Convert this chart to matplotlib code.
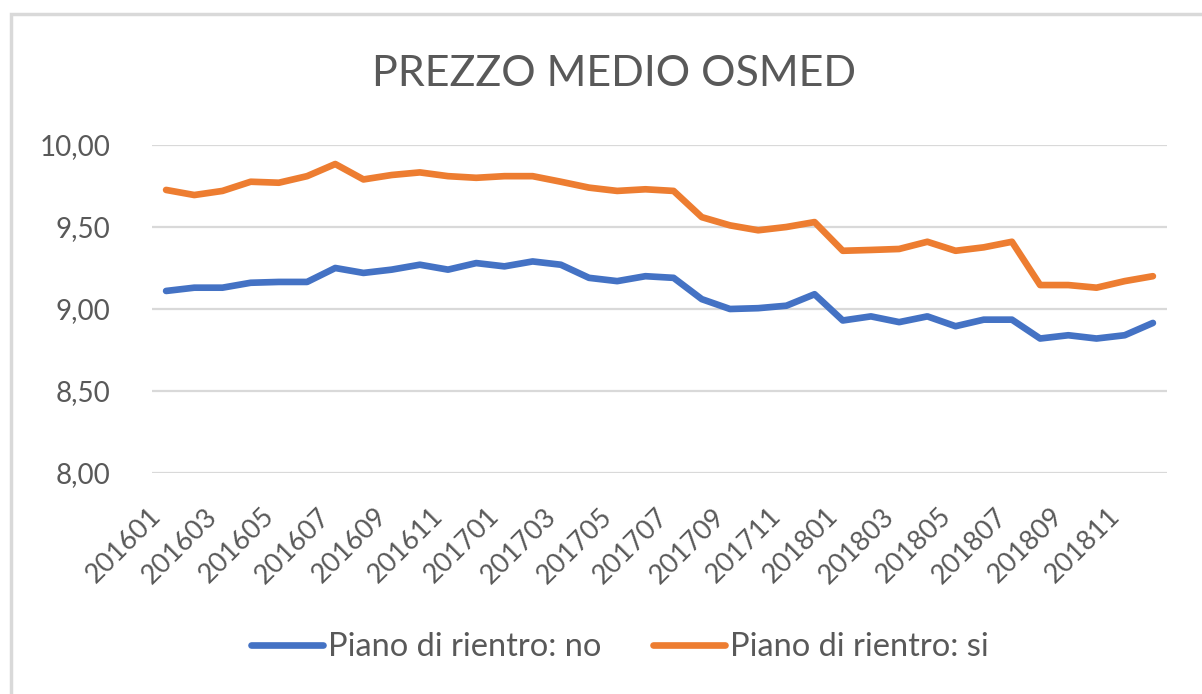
import matplotlib.pyplot as plt
from matplotlib.patches import Rectangle
from matplotlib.ticker import FuncFormatter

# months (category axis)
months = ['201601', '201602', '201603', '201604', '201605', '201606',
          '201607', '201608', '201609', '201610', '201611', '201612',
          '201701', '201702', '201703', '201704', '201705', '201706',
          '201707', '201708', '201709', '201710', '201711', '201712',
          '201801', '201802', '201803', '201804', '201805', '201806',
          '201807', '201808', '201809', '201810', '201811', '201812']

# average price, regions without recovery plan
prezzo_no = [9.11, 9.13, 9.13, 9.16, 9.165, 9.165, 9.25, 9.22, 9.24, 9.27, 9.24, 9.28,
             9.26, 9.29, 9.27, 9.19, 9.17, 9.20, 9.19, 9.06, 9.00, 9.005, 9.02, 9.09,
             8.93, 8.955, 8.92, 8.955, 8.895, 8.935, 8.935, 8.82, 8.84, 8.82, 8.84, 8.915]

# average price, regions with recovery plan
prezzo_si = [9.726, 9.695, 9.72, 9.776, 9.77, 9.81, 9.884, 9.79, 9.817, 9.833, 9.81, 9.80,
             9.81, 9.81, 9.776, 9.74, 9.72, 9.73, 9.72, 9.56, 9.51, 9.48, 9.50, 9.53,
             9.355, 9.36, 9.366, 9.41, 9.355, 9.376, 9.41, 9.146, 9.146, 9.13, 9.17, 9.20]

yticks = [8.0, 8.5, 9.0, 9.5, 10.0]

text_col = '#595959'
plt.rcParams['font.family'] = ['Lato', 'DejaVu Sans']

fig = plt.figure(figsize=(12.02, 6.94), dpi=100)

# chart frame (light grey border, cut at right/bottom like the screenshot)
fig.patches.append(Rectangle((11 / 1202, -0.05), 1.1, 1 - 14 / 694 + 0.05,
                             transform=fig.transFigure, fill=False,
                             edgecolor='#d9d9d9', linewidth=2.5))

ax = fig.add_axes([152 / 1202, 1 - 473 / 694, (1167 - 152) / 1202, (473 - 145) / 694])

x = list(range(len(months)))
ax.plot(x, prezzo_no, color='#4472C4', linewidth=4.8, solid_capstyle='round',
        solid_joinstyle='round', label='Piano di rientro: no')
ax.plot(x, prezzo_si, color='#ED7D31', linewidth=4.8, solid_capstyle='round',
        solid_joinstyle='round', label='Piano di rientro: si')

ax.set_xlim(-0.5, len(months) - 0.5)
ax.set_ylim(8.0, 10.0)
ax.set_yticks(yticks)
ax.yaxis.set_major_formatter(FuncFormatter(lambda v, p: f'{v:.2f}'.replace('.', ',')))
ax.grid(axis='y', color='#d9d9d9', linewidth=1.6)
ax.set_axisbelow(True)
for s in ax.spines.values():
    s.set_visible(False)

ax.set_xticks(x[::2])
ax.set_xticklabels(months[::2], rotation=45, ha='right')
ax.tick_params(axis='x', length=0, pad=22, labelsize=19.5, labelcolor=text_col)
ax.tick_params(axis='y', length=0, pad=30, labelsize=20, labelcolor=text_col)

fig.text(614 / 1202, 1 - 74 / 694, 'PREZZO MEDIO OSMED', ha='center', va='center',
         fontsize=31, color=text_col)

fig.legend(loc='center', bbox_to_anchor=(620 / 1202, 1 - 647 / 694), ncol=2,
           frameon=False, fontsize=23.5, handlelength=2.2, handletextpad=0.15,
           columnspacing=1.6, labelcolor=text_col)

fig.savefig('out.png', dpi=100)
